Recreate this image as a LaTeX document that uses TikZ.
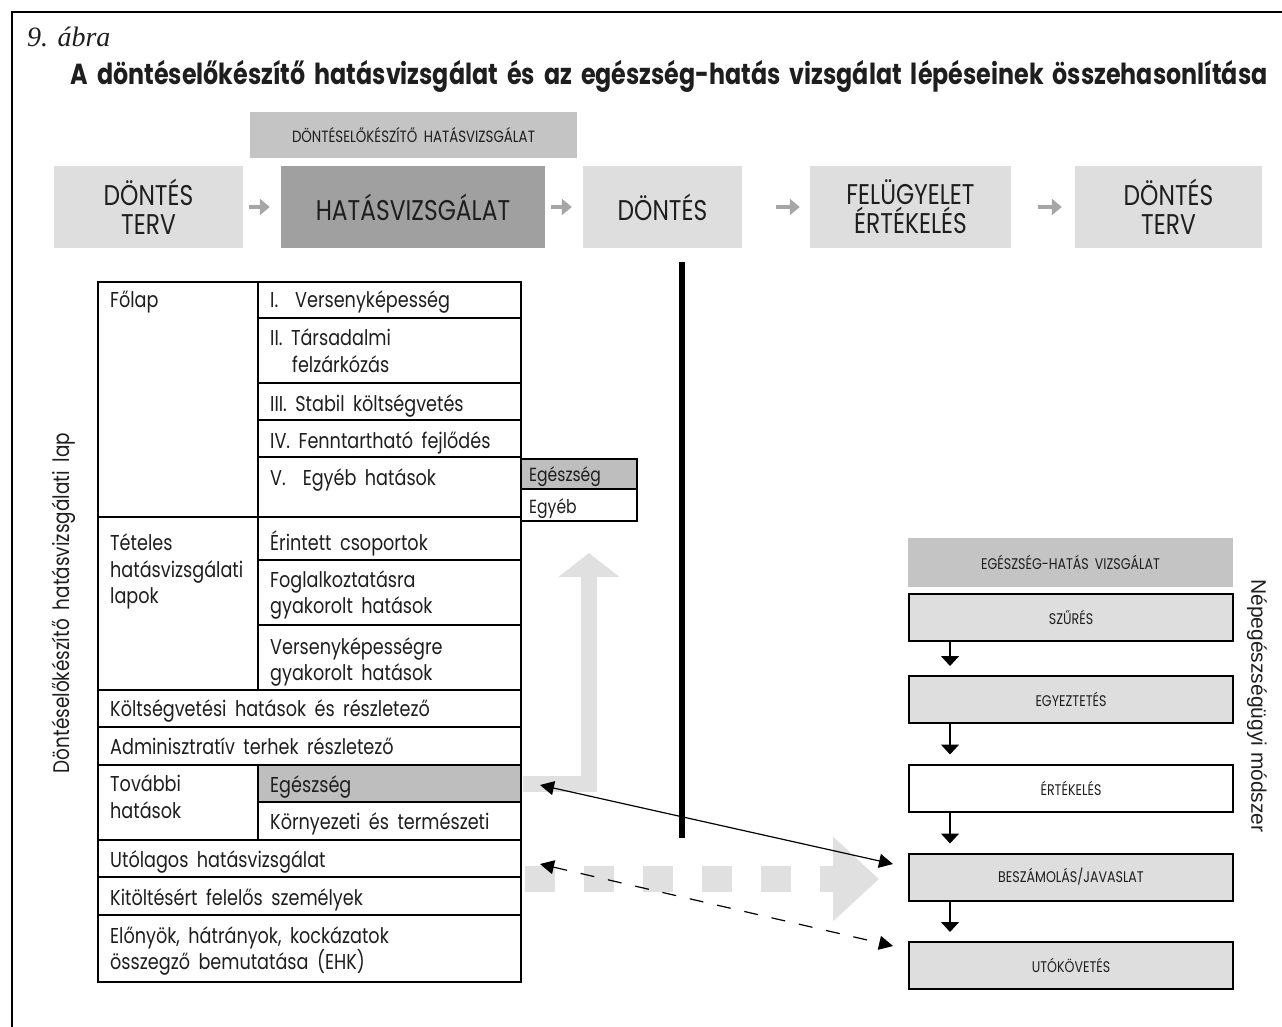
\documentclass[tikz,border=0pt]{standalone}
\usepackage{fontspec}
\setmainfont{Poppins}[FakeStretch=0.82,WordSpace=1.8]
\newfontfamily\captfont{Liberation Serif}
\newfontfamily\helvfont{Liberation Sans}
\usetikzlibrary{arrows.meta,calc}

\definecolor{boxlight}{HTML}{DEDEDE}
\definecolor{boxmid}{HTML}{C4C4C4}
\definecolor{boxdark}{HTML}{A0A0A0}
\definecolor{cellgray}{HTML}{BEBEBE}
\definecolor{bandgray}{HTML}{E0E0E0}
\definecolor{ink}{HTML}{1E1E1E}
\definecolor{tipgray}{HTML}{A6A6A6}

% one table cell: name, x1, y1, x2, y2, fill
\newcommand\tblcell[6]{%
  \node[cellbox,fill=#6,minimum width={(#4-#2)*1pt},minimum height={(#5-#3)*1pt}]
    (#1) at ({(#2+#4)/2},{(#3+#5)/2}) {};}

\begin{document}
\begin{tikzpicture}[x=1pt,y=-1pt,
  every node/.style={text=ink},
  cellbox/.style={draw=black,line width=2.4pt,inner sep=0pt,outer sep=0pt},
  celltxt/.style={anchor=base west,inner sep=0pt,font=\fontsize{21.5}{26}\selectfont},
  smalltxt/.style={anchor=base west,inner sep=0pt,font=\fontsize{19}{20}\selectfont},
  stage/.style={fill=boxlight,inner sep=0pt,minimum height=82pt,align=center,
    font=\fontsize{28.5}{29}\selectfont},
  stagearrow/.style={draw=tipgray,line width=3.5pt,
    -{Triangle[length=10pt,width=16pt]}},
  ehbox/.style={draw=black,line width=2pt,fill=boxlight,minimum width=324pt,
    minimum height=47pt,inner sep=0pt,font=\fontsize{15.4}{16}\selectfont},
  downarrow/.style={draw=black,line width=1.6pt,-{Triangle[length=10pt,width=18pt]}},
  linkarrow/.style={draw=black,line width=1.2pt,
    {Triangle[length=14pt,width=14pt]}-{Triangle[length=14pt,width=14pt]}},
]
\useasboundingbox (0,0) rectangle (1282,1027);

% frame
\draw[line width=2.5pt] (12,1027) -- (12,12) -- (1282,12);

% caption and title
\node[anchor=base west,inner sep=0pt,font=\captfont\itshape\fontsize{28}{28}\selectfont]
  (caption) at (27,47) {9. ábra};
\node[inner sep=0pt,font=\bfseries\fontsize{29}{30}\selectfont] (title) at (669,76)
  {A döntéselőkészítő hatásvizsgálat és az egészség-hatás vizsgálat lépéseinek összehasonlítása};

% decision cycle
\node[fill=boxmid,minimum width=327pt,minimum height=46pt,inner sep=0pt,
  font=\fontsize{16.3}{17}\selectfont] (dhead) at (413.5,135) {DÖNTÉSELŐKÉSZÍTŐ HATÁSVIZSGÁLAT};
\node[stage,minimum width=189pt] (b1) at (148.5,207) {DÖNTÉS\\TERV};
\node[stage,minimum width=264pt,fill=boxdark] (b2) at (413,207) {HATÁSVIZSGÁLAT};
\node[stage,minimum width=159pt] (b3) at (662.5,207) {DÖNTÉS};
\node[stage,minimum width=201pt] (b4) at (910.5,207) {FELÜGYELET\\ÉRTÉKELÉS};
\node[stage,minimum width=187pt] (b5) at (1168.5,207) {DÖNTÉS\\TERV};
\draw[stagearrow,shorten <=6pt,shorten >=11pt] (b1) -- (b2);
\draw[stagearrow,shorten <=6pt,shorten >=11pt] (b2) -- (b3);
\draw[stagearrow,shorten <=34pt,shorten >=10pt] (b3) -- (b4);
\draw[stagearrow,shorten <=27pt,shorten >=13pt] (b4) -- (b5);

% divider under the decision step
\coordinate (divtop) at (682,262);
\coordinate (divbot) at (682,838);
\draw[line width=6pt] (divtop) -- (divbot);

% impact assessment sheet
\tblcell{flap}{98}{282}{258}{517}{white}
\tblcell{r1}{258}{282}{521}{318}{white}
\tblcell{r2}{258}{318}{521}{383}{white}
\tblcell{r3}{258}{383}{521}{420}{white}
\tblcell{r4}{258}{420}{521}{457}{white}
\tblcell{r5}{258}{457}{521}{517}{white}
\tblcell{eg1}{521}{459}{637}{489}{cellgray}
\tblcell{eg2}{521}{489}{637}{521}{white}
\tblcell{tet}{98}{517}{258}{690}{white}
\tblcell{t1}{258}{517}{521}{560}{white}
\tblcell{t2}{258}{560}{521}{625}{white}
\tblcell{t3}{258}{625}{521}{690}{white}
\tblcell{kolt}{98}{690}{521}{727}{white}
\tblcell{adm}{98}{727}{521}{765}{white}
\tblcell{tov}{98}{765}{258}{840}{white}
\tblcell{e1}{258}{765}{521}{802}{cellgray}
\tblcell{e2}{258}{802}{521}{840}{white}
\tblcell{ut}{98}{840}{521}{877}{white}
\tblcell{kit}{98}{877}{521}{915}{white}
\tblcell{elo}{98}{915}{521}{982}{white}

\node[celltxt] (flap-t) at (110,307) {Főlap};
\node[celltxt] (r1-t) at (270,307) {I.\ \ Versenyképesség};
\node[celltxt] (r2-t) at (270,345) {II. Társadalmi};
\node[celltxt] (r2-u) at (292,372) {felzárkózás};
\node[celltxt] (r3-t) at (270,411) {III. Stabil költségvetés};
\node[celltxt] (r4-t) at (270,448) {IV. Fenntartható fejlődés};
\node[celltxt] (r5-t) at (270,485) {V.\ \ Egyéb hatások};
\node[smalltxt] (eg1-t) at (529,481) {Egészség};
\node[smalltxt] (eg2-t) at (529,513) {Egyéb};
\node[celltxt] (tet-t) at (110,550) {Tételes};
\node[celltxt] (tet-u) at (110,577) {hatásvizsgálati};
\node[celltxt] (tet-v) at (110,603) {lapok};
\node[celltxt] (t1-t) at (270,550) {Érintett csoportok};
\node[celltxt] (t2-t) at (270,587) {Foglalkoztatásra};
\node[celltxt] (t2-u) at (270,613) {gyakorolt hatások};
\node[celltxt] (t3-t) at (270,654) {Versenyképességre};
\node[celltxt] (t3-u) at (270,680) {gyakorolt hatások};
\node[celltxt] (kolt-t) at (110,716) {Költségvetési hatások és részletező};
\node[celltxt] (adm-t) at (110,754) {Adminisztratív terhek részletező};
\node[celltxt] (tov-t) at (110,791) {További};
\node[celltxt] (tov-u) at (110,818) {hatások};
\node[celltxt] (e1-t) at (270,792) {Egészség};
\node[celltxt] (e2-t) at (270,829) {Környezeti és természeti};
\node[celltxt] (ut-t) at (110,867) {Utólagos hatásvizsgálat};
\node[celltxt] (kit-t) at (110,905) {Kitöltésért felelős személyek};
\node[celltxt] (elo-t) at (110,943) {Előnyök, hátrányok, kockázatok};
\node[celltxt] (elo-u) at (110,969) {összegző bemutatása (EHK)};

\node[rotate=90,inner sep=0pt,font=\fontsize{22.5}{23}\selectfont] (sheetlab) at (64,603)
  {Döntéselőkészítő hatásvizsgálati lap};

% health impact assessment steps
\node[fill=boxmid,minimum width=325pt,minimum height=49pt,inner sep=0pt,
  font=\fontsize{15.4}{16}\selectfont] (hhead) at (1070.5,562.5) {EGÉSZSÉG-HATÁS VIZSGÁLAT};
\node[ehbox] (s1) at (1071,617.5) {SZŰRÉS};
\node[ehbox] (s2) at (1071,699.5) {EGYEZTETÉS};
\node[ehbox,fill=white] (s3) at (1071,788) {ÉRTÉKELÉS};
\node[ehbox] (s4) at (1071,877) {BESZÁMOLÁS/JAVASLAT};
\node[ehbox] (s5) at (1071,965.5) {UTÓKÖVETÉS};
\coordinate (ax) at (950,0);
\draw[downarrow,shorten >=9pt] (s1.south -| ax) -- (s2.north -| ax);
\draw[downarrow,shorten >=9pt] (s2.south -| ax) -- (s3.north -| ax);
\draw[downarrow,shorten >=9pt] (s3.south -| ax) -- (s4.north -| ax);
\draw[downarrow,shorten >=9pt] (s4.south -| ax) -- (s5.north -| ax);

\node[rotate=-90,inner sep=0pt,font=\helvfont\fontsize{21}{21}\selectfont] (methlab) at (1257,706)
  {Népegészségügyi módszer};

% wide grey arrows
\coordinate (bandstart) at (523,784);
\coordinate (bandbend) at (589,784);
\coordinate (bandtip) at (589,553);
\draw[bandgray,line width=16pt,-{Triangle[length=24pt,width=60pt]}]
  (bandstart) -- (bandbend) -- (bandtip);
\coordinate (dotstart) at (525,879);
\coordinate (dottip) at (879,879);
\draw[bandgray,line width=26pt,dash pattern=on 29.5pt off 29.5pt,
  -{Triangle[length=46pt,width=82pt]}] (dotstart) -- (dottip);

% links between the two methods
\coordinate (la) at (540,785);
\coordinate (lb) at (893,864);
\draw[linkarrow] (la) -- (lb);
\coordinate (lc) at (540,864);
\coordinate (ld) at (893,946);
\draw[linkarrow,dash pattern=on 14pt off 14pt] (lc) -- (ld);
\end{tikzpicture}
\end{document}
